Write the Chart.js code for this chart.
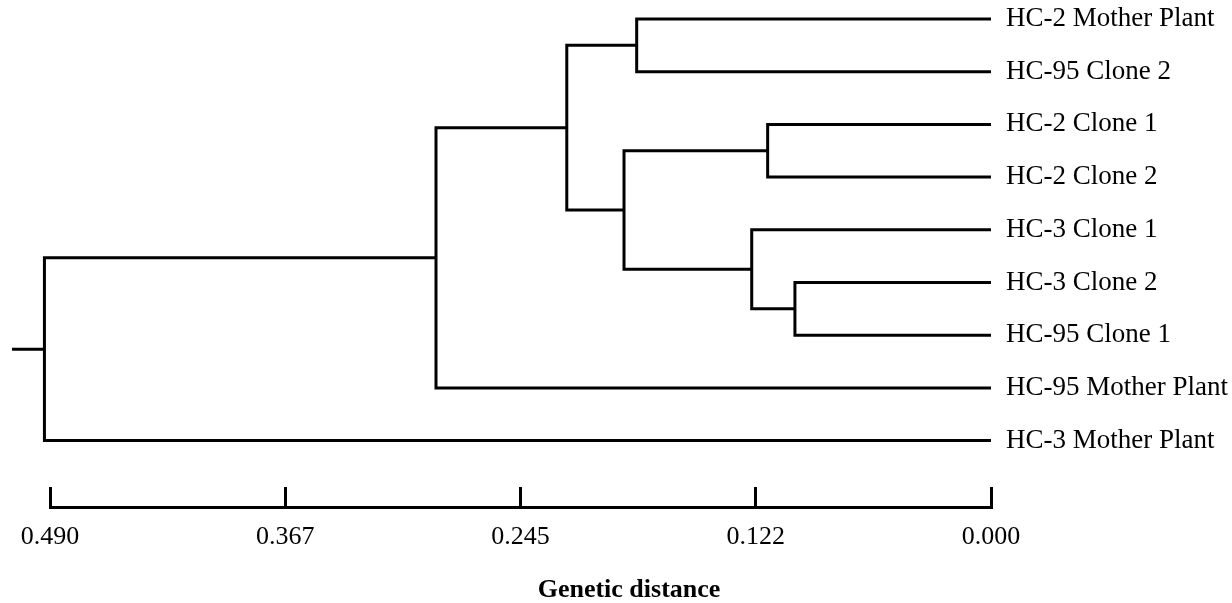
<!DOCTYPE html>
<html>
<head>
<meta charset="utf-8">
<script src="https://cdn.jsdelivr.net/npm/chart.js@4/dist/chart.umd.min.js"></script>
<style>
    html, body { margin: 0; padding: 0; background: #fff; }
    #wrap { width: 1232px; height: 603px; position: relative; }
</style>
</head>
<body>
<div id="wrap"><canvas id="dendro"></canvas></div>
<script>
// leaf order, top to bottom
const leaves = [
    'HC-2 Mother Plant',
    'HC-95 Clone 2',
    'HC-2 Clone 1',
    'HC-2 Clone 2',
    'HC-3 Clone 1',
    'HC-3 Clone 2',
    'HC-95 Clone 1',
    'HC-95 Mother Plant',
    'HC-3 Mother Plant'
];

// merges: child ids (0-8 = leaves, 9+ = earlier merges) and merge distance
const mergeLeft = [0, 2, 5, 4, 10, 9, 14, 15];
const mergeRight = [1, 3, 6, 11, 12, 13, 7, 8];
const mergeHeight = [0.1845, 0.1163, 0.1021, 0.1246, 0.1911, 0.2209, 0.2890, 0.4929];
const rootTail = 0.5098;

// scale bar
const tickValues = [0.49, 0.3675, 0.245, 0.1225, 0];
const tickLabels = ['0.490', '0.367', '0.245', '0.122', '0.000'];

const serif = 'Liberation Serif, Times New Roman, serif';

// node positions: leaves sit at their index, merges at the mean of children
const nodeY = leaves.map((_, i) => i);
const nodeH = leaves.map(() => 0);
const datasets = [];
mergeHeight.forEach((h, k) => {
    const a = mergeLeft[k];
    const b = mergeRight[k];
    nodeY.push((nodeY[a] + nodeY[b]) / 2);
    nodeH.push(h);
    datasets.push({
        data: [
            { x: nodeH[a], y: nodeY[a] },
            { x: h, y: nodeY[a] },
            { x: h, y: nodeY[b] },
            { x: nodeH[b], y: nodeY[b] }
        ]
    });
});
const root = nodeY.length - 1;
datasets.push({
    data: [
        { x: nodeH[root], y: nodeY[root] },
        { x: rootTail, y: nodeY[root] }
    ]
});
datasets.forEach(ds => {
    ds.showLine = true;
    ds.borderColor = '#000';
    ds.borderWidth = 3;
    ds.borderJoinStyle = 'miter';
    ds.borderCapStyle = 'butt';
    ds.pointRadius = 0;
    ds.pointHoverRadius = 0;
    ds.tension = 0;
    ds.clip = false;
});

new Chart(document.getElementById('dendro'), {
    type: 'scatter',
    data: { datasets },
    options: {
        responsive: true,
        maintainAspectRatio: false,
        animation: false,
        events: [],
        layout: { padding: { left: 26, top: 0, right: 0, bottom: 0 } },
        scales: {
            x: {
                type: 'linear',
                reverse: true,
                min: 0,
                max: 0.49,
                afterBuildTicks: scale => {
                    scale.ticks = tickValues.map(v => ({ value: v }));
                },
                afterFit: scale => {
                    scale.height = 45;
                    scale.paddingLeft = 50;
                    scale.paddingRight = 0;
                },
                ticks: {
                    autoSkip: false,
                    maxRotation: 0,
                    padding: 35,
                    color: '#000',
                    font: { family: serif, size: 26 },
                    callback: (value, index) => tickLabels[index]
                },
                grid: {
                    drawOnChartArea: false,
                    drawTicks: true,
                    tickLength: -20,
                    color: '#000',
                    lineWidth: 3
                },
                border: { display: true, color: '#000', width: 3 }
            },
            y: {
                type: 'linear',
                position: 'right',
                reverse: true,
                min: -0.36,
                max: 9.26,
                afterBuildTicks: scale => {
                    scale.ticks = leaves.map((_, i) => ({ value: i }));
                },
                afterFit: scale => {
                    scale.width = 241;
                    scale.paddingTop = 0;
                    scale.paddingBottom = 0;
                },
                ticks: {
                    autoSkip: false,
                    padding: 15,
                    color: '#000',
                    font: { family: serif, size: 27 },
                    callback: value => leaves[value]
                },
                grid: { display: false, drawTicks: false },
                border: { display: false }
            }
        },
        plugins: {
            legend: { display: false },
            tooltip: { enabled: false },
            title: {
                display: true,
                position: 'bottom',
                text: 'Genetic distance',
                color: '#000',
                font: { family: serif, size: 26, weight: 'bold', lineHeight: 1 },
                padding: { top: 25, bottom: 0 }
            }
        }
    }
});
</script>
</body>
</html>
